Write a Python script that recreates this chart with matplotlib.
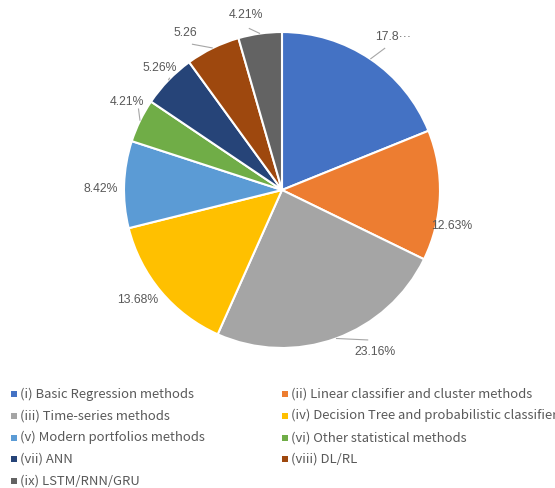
import numpy as np
import matplotlib
matplotlib.use("Agg")
import matplotlib.pyplot as plt
from matplotlib.patches import Rectangle

categories = ["(i) Basic Regression methods", "(ii) Linear classifier and cluster methods",
              "(iii) Time-series methods", "(iv) Decision Tree and probabilistic classifier",
              "(v) Modern portfolios methods", "(vi) Other statistical methods",
              "(vii) ANN", "(viii) DL/RL", "(ix) LSTM/RNN/GRU"]
values = [17.89, 12.63, 23.16, 13.68, 8.42, 4.21, 5.26, 5.26, 4.21]
value_labels = ["17.8\u00b7\u00b7\u00b7", "12.63%", "23.16%", "13.68%", "8.42%",
                "4.21%", "5.26%", "5.26", "4.21%"]
colors = ["#4472C4", "#ED7D31", "#A5A5A5", "#FFC000", "#5B9BD5",
          "#70AD47", "#264478", "#9E480E", "#636363"]

# label placement (angle in degrees, radius in pie radii) and leader flags
label_ang = [54.0, -12.1, -60.1, -142.6, 179.7, 150.4, 135.0, 121.7, 101.6]
label_rad = [1.196, 1.10, 1.18, 1.146, 1.146, 1.13, 1.09, 1.17, 1.13]
leader = [True, False, True, False, False, True, True, True, True]

fig = plt.figure(figsize=(5.55, 4.88), dpi=100)
ax = fig.add_axes([0.2234, 0.2869, 0.5694, 0.6475])
wedges, _ = ax.pie(values, colors=colors, startangle=90, counterclock=False,
                   radius=1.0, wedgeprops=dict(edgecolor="white", linewidth=1.5))
ax.set_xlim(-1, 1)
ax.set_ylim(-1, 1)
ax.set_aspect("equal")
ax.axis("off")

lab_font = dict(family=["Liberation Sans", "DejaVu Sans"], fontsize=8.8, color="#595959")
for w, txt, a, r, ld in zip(wedges, value_labels, label_ang, label_rad, leader):
    mid = np.deg2rad((w.theta1 + w.theta2) / 2)
    la = np.deg2rad(a)
    lx, ly = r * np.cos(la), r * np.sin(la)
    ax.text(lx, ly, txt, ha="center", va="center", clip_on=False, **lab_font)
    if ld:
        ex, ey = np.cos(mid), np.sin(mid)
        rr = r - 0.085
        tx, ty = rr * np.cos(la), rr * np.sin(la)
        ax.plot([ex, tx], [ey, ty], color="#A6A6A6", lw=0.8, clip_on=False,
                solid_capstyle="butt")

# legend (two columns, row-major order)
leg_font = dict(family=["Noto Sans CJK SC", "DejaVu Sans"], fontsize=9.4, color="#595959")
W, H = 555, 488
for i, (lab, c) in enumerate(zip(categories, colors)):
    col, row = i % 2, i // 2
    mx = 11 if col == 0 else 282
    yc = 394 + row * 21.8
    fig.patches.append(Rectangle(((mx) / W, 1 - (yc + 3) / H), 6 / W, 6 / H,
                                 transform=fig.transFigure, facecolor=c, edgecolor="none"))
    fig.text((mx + 9) / W, 1 - yc / H, lab, ha="left", va="center", **leg_font)

fig.savefig("out.png", dpi=100)
